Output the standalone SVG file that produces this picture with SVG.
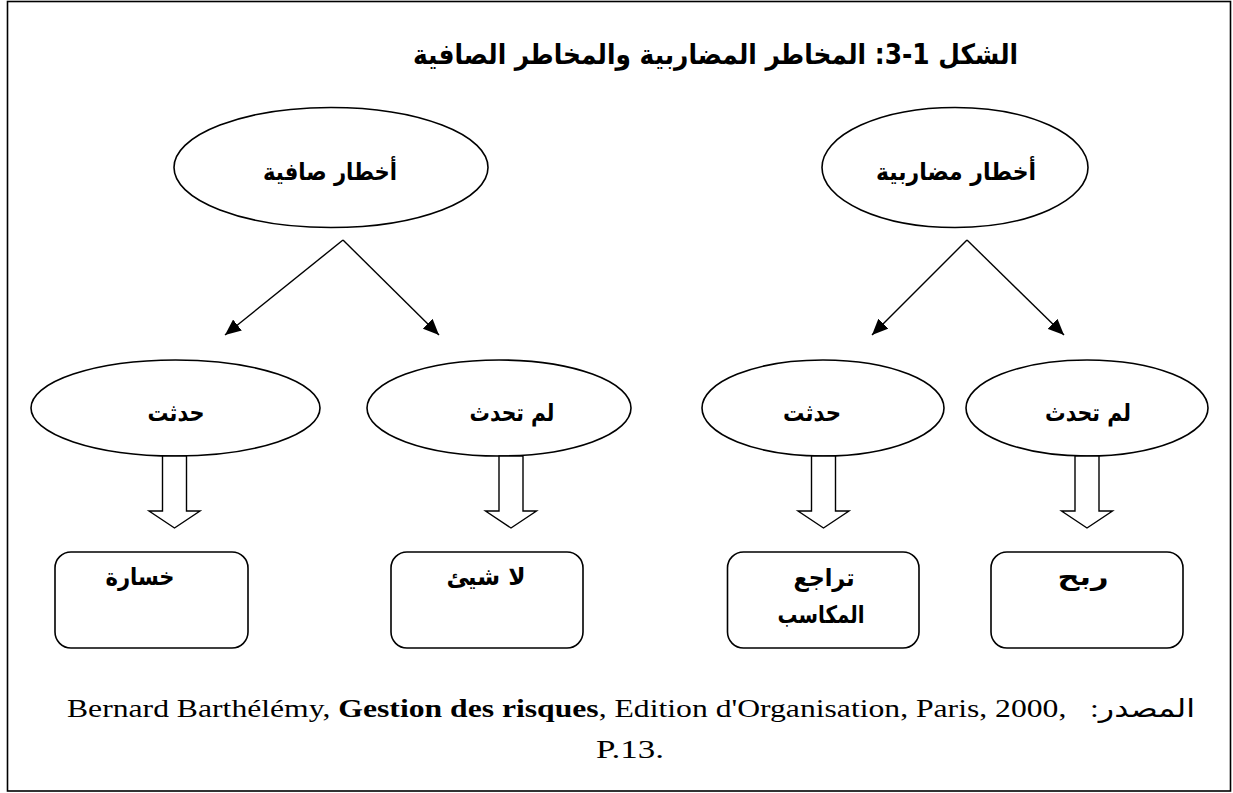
<svg xmlns="http://www.w3.org/2000/svg" width="1233" height="793" viewBox="0 0 1233 793">
<defs>
<style>
.shape{fill:#fff;stroke:#000;stroke-width:1.6}
.ar{font-family:"DejaVu Sans","Liberation Sans",sans-serif;font-weight:bold;fill:#000;text-anchor:middle}
.lbl{font-size:24px}
.line{stroke:#000;stroke-width:1.4;fill:none}
.block{fill:#fff;stroke:#000;stroke-width:1.4}
.foot{font-family:"Liberation Serif","DejaVu Sans",serif;font-size:25px;fill:#000}
</style>
<marker id="ah" markerUnits="userSpaceOnUse" markerWidth="17" markerHeight="14" refX="16" refY="7" orient="auto">
<path d="M0,0 L16,7 L0,14 Z" fill="#000"/>
</marker>
</defs>
<rect x="0" y="0" width="1233" height="793" fill="#fff"/>
<rect x="7.5" y="1.5" width="1223" height="789.5" fill="none" stroke="#000" stroke-width="1.6"/>

<g id="title">
<text class="ar" x="715.5" y="64" font-size="28" direction="rtl" textLength="605" lengthAdjust="spacingAndGlyphs">الشكل 1-3: المخاطر المضاربية والمخاطر الصافية</text>
</g>

<g id="pure-risk">
<ellipse class="shape" cx="331" cy="167.5" rx="157" ry="60"/>
<text class="ar lbl" x="330" y="180" textLength="134" lengthAdjust="spacingAndGlyphs">أخطار صافية</text>
</g>
<g id="spec-risk">
<ellipse class="shape" cx="955" cy="167.5" rx="133" ry="60"/>
<text class="ar lbl" x="956" y="180" textLength="160" lengthAdjust="spacingAndGlyphs">أخطار مضاربية</text>
</g>

<g id="pure-occurred">
<ellipse class="shape" cx="175.5" cy="408" rx="144.5" ry="48"/>
<text class="ar lbl" x="176" y="421" textLength="57" lengthAdjust="spacingAndGlyphs">حدثت</text>
</g>
<g id="pure-not-occurred">
<ellipse class="shape" cx="499" cy="408" rx="132" ry="48"/>
<text class="ar lbl" x="512" y="421" textLength="85" lengthAdjust="spacingAndGlyphs">لم تحدث</text>
</g>
<g id="spec-occurred">
<ellipse class="shape" cx="823" cy="408" rx="121" ry="48"/>
<text class="ar lbl" x="812" y="421" textLength="58" lengthAdjust="spacingAndGlyphs">حدثت</text>
</g>
<g id="spec-not-occurred">
<ellipse class="shape" cx="1087" cy="408" rx="121" ry="48"/>
<text class="ar lbl" x="1088" y="421" textLength="86" lengthAdjust="spacingAndGlyphs">لم تحدث</text>
</g>

<g id="loss">
<rect class="shape" x="55" y="552" width="193" height="96" rx="16"/>
<text class="ar lbl" x="140" y="585" textLength="69" lengthAdjust="spacingAndGlyphs">خسارة</text>
</g>
<g id="nothing">
<rect class="shape" x="391" y="552" width="192" height="96" rx="16"/>
<text class="ar lbl" x="486" y="585" textLength="79" lengthAdjust="spacingAndGlyphs">لا شيئ</text>
</g>
<g id="gain-decline">
<rect class="shape" x="727.5" y="552" width="191.5" height="96" rx="16"/>
<text class="ar lbl" x="824" y="586" textLength="61" lengthAdjust="spacingAndGlyphs">تراجع</text>
<text class="ar lbl" x="821" y="623" textLength="87" lengthAdjust="spacingAndGlyphs">المكاسب</text>
</g>
<g id="profit">
<rect class="shape" x="991" y="552" width="192" height="96" rx="16"/>
<text class="ar lbl" x="1083" y="585" textLength="51" lengthAdjust="spacingAndGlyphs">ربح</text>
</g>

<g id="connectors">
<line class="line" x1="343" y1="240" x2="225" y2="335" marker-end="url(#ah)"/>
<line class="line" x1="343" y1="240" x2="439" y2="335" marker-end="url(#ah)"/>
<line class="line" x1="967" y1="240" x2="872" y2="335" marker-end="url(#ah)"/>
<line class="line" x1="967" y1="240" x2="1064" y2="335" marker-end="url(#ah)"/>
<polygon class="block" points="162.5,456 186.5,456 186.5,511 200,511 174.5,528 149,511 162.5,511"/>
<polygon class="block" points="499,456 523,456 523,511 536.5,511 511,528 485.5,511 499,511"/>
<polygon class="block" points="811.5,456 835.5,456 835.5,511 849,511 823.5,528 798,511 811.5,511"/>
<polygon class="block" points="1075,456 1099,456 1099,511 1112.5,511 1087,528 1061.5,511 1075,511"/>
</g>

<g id="source">
<text class="foot" x="631" y="717" text-anchor="middle" textLength="1128" lengthAdjust="spacingAndGlyphs">Bernard Barthélémy, <tspan font-weight="bold">Gestion des risques</tspan>, Edition d'Organisation, Paris, 2000,&#160;&#160; :المصدر</text>
<text class="foot" x="630" y="758" text-anchor="middle" textLength="68" lengthAdjust="spacingAndGlyphs">P.13.</text>
</g>
</svg>
